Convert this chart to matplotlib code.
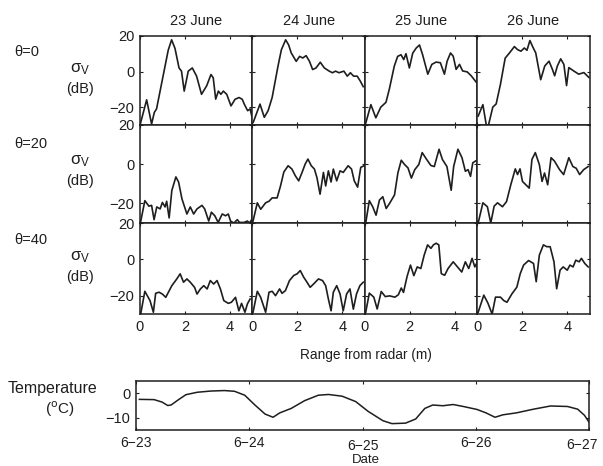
import matplotlib.pyplot as plt
from matplotlib.transforms import ScaledTranslation

plt.rcParams['font.family'] = ['Liberation Sans', 'DejaVu Sans']
plt.rcParams['mathtext.fontset'] = 'dejavusans'

days = ['23 June', '24 June', '25 June', '26 June']
angles = ['\u03b8=0', '\u03b8=20', '\u03b8=40']

# range (m) / sigma_v (dB), theta = 0
r_23_t0 = [0.02, 0.30, 0.52, 0.64, 0.74, 1.26, 1.41, 1.56, 1.74, 1.85, 1.97, 2.15, 2.33, 2.52, 2.74, 2.97,
           3.16, 3.26, 3.37, 3.49, 3.60, 3.71, 3.86, 4.05, 4.23, 4.41, 4.55, 4.64, 4.79, 4.90, 4.97]
s_23_t0 = [-29.4, -15.9, -29.5, -23, -21, 12, 17.8, 13, 2, 0.2, -11, 0.2, 2, -2.6, -12.8, -8,
           -1.7, -3.5, -15.5, -11, -12.8, -11, -12.8, -19.3, -15.6, -14.6, -15.6, -18.3, -22, -21, -24.8]
r_24_t0 = [0.04, 0.34, 0.53, 0.70, 0.88, 1.14, 1.29, 1.48, 1.61, 1.73, 1.95, 2.10, 2.24, 2.39, 2.54,
           2.68, 2.83, 3.02, 3.20, 3.42, 3.56, 3.70, 3.85, 4.07, 4.22, 4.36, 4.50, 4.66, 4.80, 4.93]
s_24_t0 = [-28.5, -18.3, -25.7, -22, -14.6, 3, 12.2, 17.8, 15, 10.4, 5.7, 8.5, 7.6, 8.9, 5.7,
           1.1, 2, 5.2, 2, 0.2, -0.7, 0.2, -0.7, 0.2, -2.6, -0.7, -2.6, -2.6, -5.4, -8.5]
r_25_t0 = [0.04, 0.27, 0.49, 0.71, 0.94, 1.09, 1.31, 1.46, 1.61, 1.73, 1.83, 1.98, 2.13, 2.28, 2.43,
           2.57, 2.80, 2.98, 3.17, 3.36, 3.54, 3.66, 3.81, 3.93, 4.06, 4.21, 4.35, 4.55, 4.73, 4.96]
s_25_t0 = [-29, -18.6, -26, -20, -17.3, -9.9, 3, 8.5, 9.4, 6.7, 10, 2, 10.3, 13.1, 14.9,
           9.4, -1.5, 4, 5.3, 4.9, -1.5, 5.8, 10.4, 8.6, 1.2, 4, 0.3, -0.2, -2.4, -6.1]
r_26_t0 = [0.04, 0.25, 0.40, 0.50, 0.69, 0.84, 1.03, 1.24, 1.43, 1.65, 1.79, 1.94, 2.09, 2.21, 2.34, 2.46,
           2.60, 2.82, 3.00, 3.19, 3.34, 3.44, 3.56, 3.71, 3.85, 3.97, 4.07, 4.29, 4.51, 4.74, 4.96]
s_26_t0 = [-25, -18.6, -30, -30, -20, -18.2, -7.2, 7.5, 10.4, 14, 12.3, 11.4, 13.2, 11.9, 17.4, 14,
           10.4, -4.6, 3.1, 5.8, 1.2, -2.4, 3.1, 7.1, 4, -7.9, 2.2, 0.3, -1.5, -0.6, -3.3]

# theta = 20
r_23_t20 = [0.04, 0.22, 0.40, 0.52, 0.63, 0.75, 0.90, 1.00, 1.12, 1.19, 1.30, 1.42, 1.60, 1.72, 1.87, 2.09,
            2.24, 2.39, 2.54, 2.76, 2.88, 3.06, 3.18, 3.33, 3.48, 3.66, 3.81, 3.93, 4.03, 4.18, 4.33,
            4.43, 4.63, 4.78, 4.87, 4.97]
s_23_t20 = [-29, -18.6, -21.4, -21, -28.3, -21.8, -22.8, -19.5, -21.8, -18.9, -27.4, -13.4, -6.5, -9.1, -17.7,
            -25.4, -21.8, -25.4, -22.8, -21, -22.8, -29, -24.5, -26.3, -29.7, -25.4, -26.3, -25.4, -29, -30,
            -28.3, -29.7, -29.7, -29, -30, -28.3]
r_24_t20 = [0.03, 0.22, 0.37, 0.59, 0.74, 0.88, 1.10, 1.25, 1.40, 1.59, 1.76, 1.91, 2.06, 2.21, 2.35, 2.47,
            2.62, 2.76, 2.87, 3.01, 3.16, 3.26, 3.38, 3.50, 3.60, 3.75, 3.90, 4.04, 4.26, 4.41, 4.53,
            4.68, 4.82, 4.97]
s_24_t20 = [-29, -19.7, -23, -19.7, -18.9, -17.2, -17.2, -11.2, -4, -0.8, -2.5, -5.9, -8.5, -4.2, 0.1, 2.6,
            -0.8, -2.5, -6.8, -15.3, -4.2, -11.1, -3.4, -9.1, -2.5, -8.5, -3.4, -4.2, -0.8, -2.5, -8.5,
            -11.7, -1.6, -0.8]
r_25_t20 = [0.04, 0.20, 0.35, 0.50, 0.65, 0.80, 0.95, 1.10, 1.32, 1.47, 1.62, 1.77, 1.92, 2.07, 2.22, 2.40,
            2.55, 2.75, 2.94, 3.09, 3.30, 3.45, 3.65, 3.84, 3.95, 4.14, 4.32, 4.47, 4.59, 4.70, 4.80, 4.92]
s_25_t20 = [-30, -18.6, -21.7, -26, -18.3, -16.6, -22.6, -20, -15.7, -4.5, 2, -0.2, -1.9, -7.1, -2.8, -0.2,
            5.9, 2.4, -0.7, -1.2, 7.6, 2.4, -1.2, -13.3, -1.2, 7.6, 3.3, -3.6, -2.8, -6.2, 0.7, 1.6]
r_26_t20 = [0.04, 0.25, 0.45, 0.60, 0.75, 0.90, 1.12, 1.30, 1.49, 1.69, 1.79, 1.90, 2.01, 2.16, 2.31, 2.43,
            2.58, 2.76, 2.88, 2.99, 3.13, 3.28, 3.43, 3.66, 3.84, 4.07, 4.25, 4.40, 4.55, 4.73, 4.93]
s_26_t20 = [-30, -19.7, -21.7, -30, -21.4, -19.7, -21.7, -19.1, -10.5, -2.4, -5.3, -2.4, -8.8, -10.5, -12.2, 2.4,
            5.9, -0.2, -8.8, -4.5, -10.5, 3.3, 1.6, -2.8, -5.3, 3.3, -1.2, -2.1, -5.3, -2.8, -1.2]

# theta = 40
r_23_t40 = [0.04, 0.22, 0.45, 0.60, 0.70, 0.85, 1.00, 1.15, 1.42, 1.64, 1.79, 1.94, 2.09, 2.24, 2.43, 2.54,
            2.69, 2.84, 2.99, 3.13, 3.28, 3.43, 3.58, 3.73, 3.93, 4.07, 4.25, 4.40, 4.52, 4.67, 4.78, 4.90]
s_23_t40 = [-29.6, -17.5, -22.6, -29, -18.6, -18, -19, -20.8, -14.4, -10.7, -7.9, -12.5, -10.7, -12.5, -15.3, -19,
            -16.2, -14.4, -16.2, -11.6, -13.5, -11.6, -16.2, -22.6, -24.1, -23.5, -20.8, -28.2, -24.1, -29, -24.4,
            -21.7]
r_24_t40 = [0.03, 0.22, 0.37, 0.59, 0.74, 0.88, 1.03, 1.21, 1.32, 1.47, 1.65, 1.84, 1.99, 2.13, 2.28, 2.43,
            2.57, 2.72, 2.94, 3.12, 3.26, 3.38, 3.50, 3.60, 3.75, 3.90, 4.04, 4.19, 4.34, 4.49, 4.63, 4.78, 4.93]
s_24_t40 = [-29, -17.5, -20.8, -29, -18, -17.5, -19.9, -16.2, -18.6, -17.1, -11.6, -8.8, -7.9, -6.1, -9.7, -12.5,
            -15.3, -13.5, -10.7, -11.6, -14.4, -21.7, -28.2, -18, -14.4, -19, -28.2, -19, -16.2, -27.3, -19, -14.4,
            -12.5]
r_25_t40 = [0.04, 0.20, 0.40, 0.55, 0.73, 0.91, 1.10, 1.34, 1.49, 1.62, 1.72, 1.88, 2.03, 2.18, 2.33, 2.49,
            2.64, 2.79, 2.94, 3.05, 3.17, 3.29, 3.40, 3.55, 3.70, 3.93, 4.12, 4.31, 4.47, 4.62, 4.77, 4.89, 4.97]
s_25_t40 = [-29, -18.5, -20.7, -27.2, -17.6, -20.4, -20, -20.7, -19.4, -15.7, -18.1, -9.3, -3.1, -8.9, -4.1, -5,
            2.4, 8, 6.1, 8, 8.9, 8, -7.8, -8.7, -5, -1.3, -4.1, -6.9, -1.3, -5, 0.6, -4.1, -2.2]
r_26_t40 = [0.04, 0.29, 0.47, 0.66, 0.81, 1.03, 1.18, 1.32, 1.54, 1.76, 1.91, 2.06, 2.28, 2.50, 2.62, 2.76,
            2.94, 3.09, 3.24, 3.41, 3.53, 3.68, 3.82, 4.00, 4.12, 4.26, 4.38, 4.53, 4.63, 4.78, 4.93]
s_26_t40 = [-29, -19.6, -23.9, -30, -20.7, -20.7, -22.6, -23.5, -18.9, -15.2, -7.8, -3.1, -0.6, -2.2, -12.2, 2.4,
            8, 7, 7, -1.3, -16.1, -5.9, -4.1, -5.9, -3.1, -4.1, -0.4, -1.3, 0.6, -2.2, -4.1]

# temperature, days after 6-23 00:00
t_days = [0.03, 0.16, 0.23, 0.28, 0.31, 0.37, 0.44, 0.54, 0.66, 0.78, 0.87, 0.96, 1.05, 1.14, 1.21, 1.27,
          1.37, 1.49, 1.61, 1.70, 1.82, 1.94, 2.05, 2.18, 2.26, 2.38, 2.47, 2.55, 2.62, 2.71, 2.80, 2.89,
          3.01, 3.09, 3.17, 3.24, 3.36, 3.51, 3.66, 3.81, 3.90, 3.96, 4.0]
temp = [-2.5, -2.6, -3.6, -5, -4.8, -2.8, -0.6, 0.4, 0.9, 1.1, 0.8, -0.8, -4.8, -8.5, -9.8, -8,
        -6.2, -3, -0.8, -0.5, -1.2, -3.4, -7.4, -11.2, -12.4, -12.2, -10.5, -6.2, -4.8, -5.1, -4.6, -5.4,
        -6.6, -8, -9.8, -8.8, -8, -6.5, -5.2, -5.4, -6.5, -9, -11.8]
date_labels = ['6\u221223', '6\u221224', '6\u221225', '6\u221226', '6\u221227']

rows = [
    [(r_23_t0, s_23_t0), (r_24_t0, s_24_t0), (r_25_t0, s_25_t0), (r_26_t0, s_26_t0)],
    [(r_23_t20, s_23_t20), (r_24_t20, s_24_t20), (r_25_t20, s_25_t20), (r_26_t20, s_26_t20)],
    [(r_23_t40, s_23_t40), (r_24_t40, s_24_t40), (r_25_t40, s_25_t40), (r_26_t40, s_26_t40)],
]

ink = '#1e1e1e'
fs = 10.5
fig = plt.figure(figsize=(6.03, 4.66), dpi=100)
gs = fig.add_gridspec(3, 4, left=0.232, right=0.978, top=0.923, bottom=0.326,
                      hspace=0, wspace=0, height_ratios=[89, 98, 91])

for i, row in enumerate(rows):
    for j, (r, s) in enumerate(row):
        ax = fig.add_subplot(gs[i, j])
        ax.plot(r, s, color=ink, lw=1.2)
        ax.set_xlim(0, 5)
        ax.set_ylim(-30, 20)
        ax.set_xticks([0, 2, 4])
        ax.set_yticks([-20, 0, 20])
        ax.tick_params(direction='in', length=2.5, width=0.8, labelsize=fs, colors=ink,
                       top=True, right=True, pad=4)
        for sp in ax.spines.values():
            sp.set_linewidth(1.1)
            sp.set_color(ink)
        ax.set_yticklabels(['\u221220', '0', '20'] if j == 0 else [])
        if i == 2:
            ax.set_xticklabels(['0', '2', '4'])
        else:
            ax.set_xticklabels([])
        if i == 0:
            ax.set_title(days[j], fontsize=fs, color=ink, pad=8)

# row labels
for i, yy in enumerate([52, 144, 240]):
    fig.text(14 / 603, 1 - yy / 466, angles[i], fontsize=fs, color=ink, va='center')
for yy in [69, 161, 257]:
    fig.text(80 / 603, 1 - yy / 466, r'$\mathregular{\sigma_{V}}$', fontsize=12, color=ink,
             ha='center', va='center')
    fig.text(80 / 603, 1 - (yy + 20) / 466, '(dB)', fontsize=fs, color=ink,
             ha='center', va='center')

fig.text(366 / 603, 1 - 355 / 466, 'Range from radar (m)', fontsize=9.8, color=ink,
         ha='center', va='center')

# temperature panel
axt = fig.add_axes([136 / 603, 1 - 430 / 466, 453 / 603, 49 / 466])
axt.plot(t_days, temp, color=ink, lw=1.1)
axt.set_xlim(0, 4)
axt.set_ylim(-15, 5)
axt.set_yticks([-10, 0])
axt.set_yticklabels(['\u221210', '0'])
axt.set_xticks([0, 1, 2, 3, 4])
axt.set_xticklabels(date_labels)
axt.tick_params(direction='in', length=2.5, width=0.8, labelsize=fs, colors=ink,
                top=True, right=True, pad=4)
axt.tick_params(axis='x', labelsize=10)
ticks = axt.xaxis.get_major_ticks()
ticks[2].set_pad(6.5)
ticks[4].set_pad(5.5)
last = axt.get_xticklabels()[-1]
last.set_transform(last.get_transform() + ScaledTranslation(-7 / 100, 0, fig.dpi_scale_trans))
for sp in axt.spines.values():
    sp.set_linewidth(1.1)
    sp.set_color(ink)
fig.text(366 / 603, 1 - 460 / 466, 'Date', fontsize=9.5, color=ink, ha='center', va='center')
fig.text(52 / 603, 1 - 388 / 466, 'Temperature', fontsize=11.5, color=ink, ha='center', va='center')
fig.text(60 / 603, 1 - 409 / 466, r'($^{\mathrm{o}}$C)', fontsize=11, color=ink, ha='center', va='center')

fig.savefig('out.png', dpi=100)
